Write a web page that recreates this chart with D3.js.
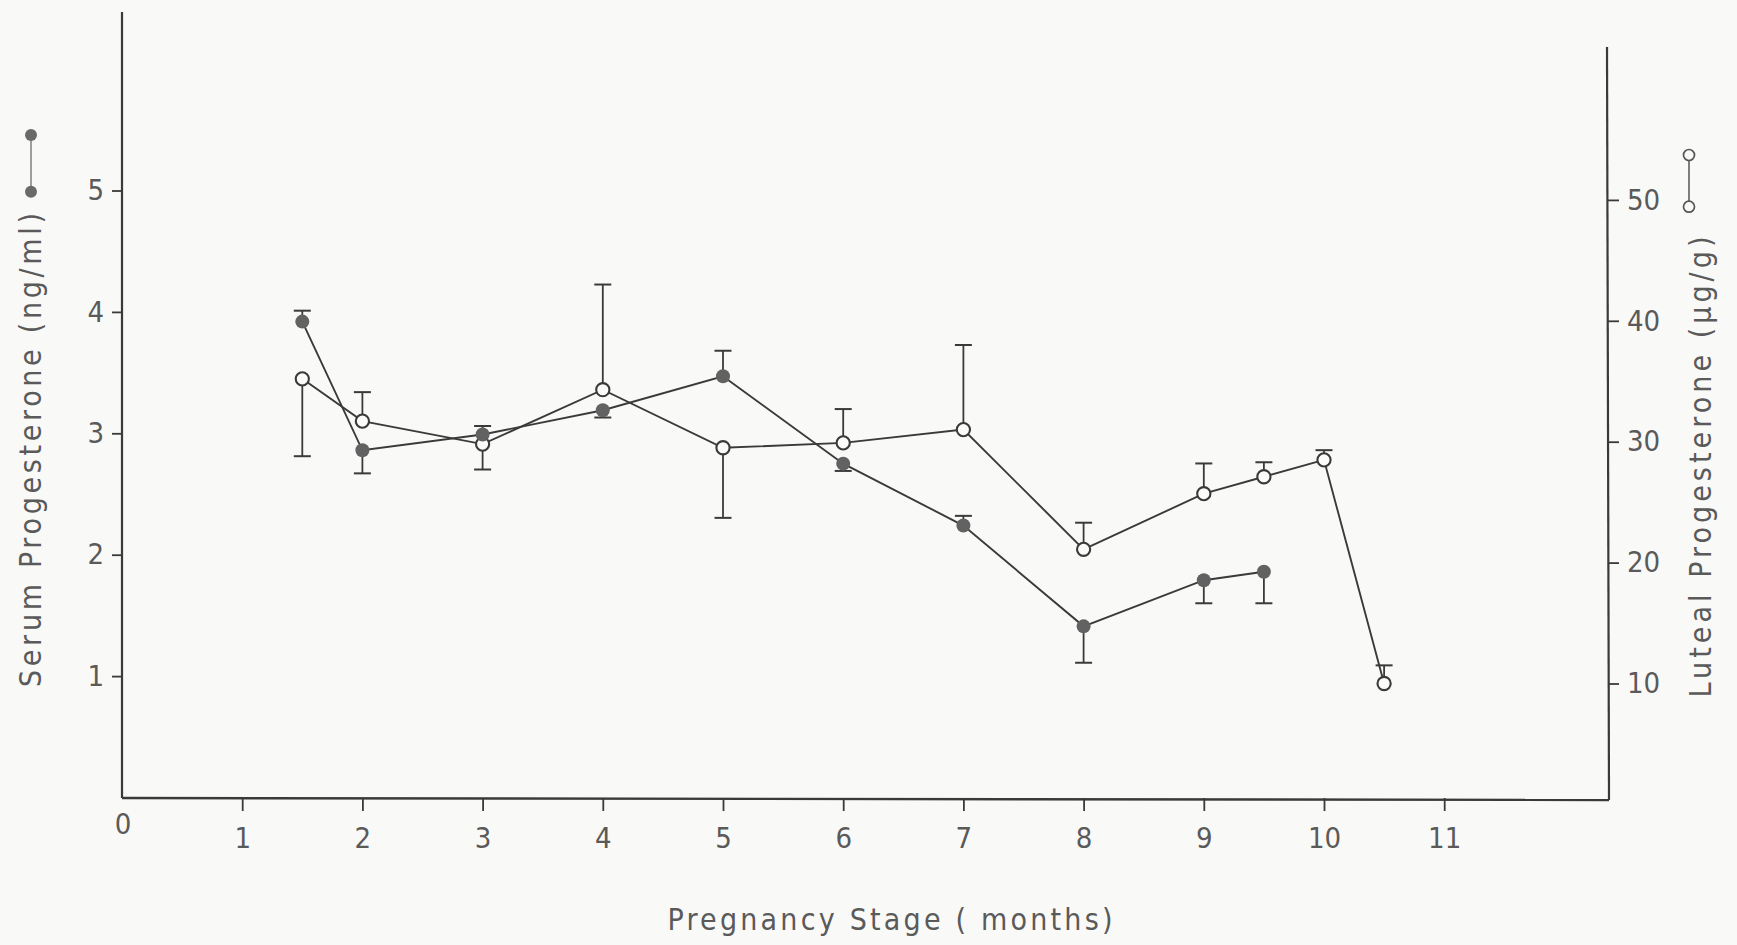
<!DOCTYPE html>
<html>
<head>
<meta charset="utf-8">
<script src="https://cdn.jsdelivr.net/npm/d3@7"></script>
<style>
  body { margin: 0; background: #f9f9f7; }
  svg { display: block; }
  text { font-family: "DejaVu Sans Condensed", "DejaVu Sans", sans-serif; fill: #5a5a5a; }
</style>
</head>
<body>
<svg id="svg"></svg>
<script>
// serum progesterone (ng/ml), filled dots; err = end of the one-sided SE bar
const serumMonths = [1.5, 2, 3, 4, 5, 6, 7, 8, 9, 9.5];
const serum       = [3.92, 2.86, 2.99, 3.19, 3.47, 2.75, 2.24, 1.41, 1.79, 1.86];
const serumErr    = [4.01, 2.67, 3.06, 3.13, 3.68, 2.69, 2.32, 1.11, 1.60, 1.60];

// luteal progesterone (ug/g), open dots
const lutealMonths = [1.5, 2, 3, 4, 5, 6, 7, 8, 9, 9.5, 10, 10.5];
const luteal       = [35.2, 31.7, 29.8, 34.3, 29.5, 29.9, 31.0, 21.1, 25.7, 27.1, 28.5, 10.0];
const lutealErr    = [28.8, 34.1, 27.7, 43.0, 23.7, 32.7, 38.0, 23.3, 28.2, 28.3, 29.3, 11.5];

const xTicks = [1, 2, 3, 4, 5, 6, 7, 8, 9, 10, 11];
const serumTicks = [1, 2, 3, 4, 5];
const lutealTicks = [10, 20, 30, 40, 50];

let layout = {"width": 1737, "height": 945};

let svg = d3.select("#svg")
  .attr("width", layout.width)
  .attr("height", layout.height);

let xScale = d3.scaleLinear().domain([0, 11]).range([122, 1444.2]);
let yLeft = d3.scaleLinear().domain([0, 5]).range([797.5, 190.5]);
let yRight = d3.scaleLinear().domain([0, 50]).range([804.4, 199.9]);

const ink = "#3a3a3a";
const x0 = xScale(0), yBase = 798, xRightAxis = 1609;

// axis lines
svg.append("line").attr("x1", x0).attr("y1", 12).attr("x2", x0).attr("y2", yBase)
  .attr("stroke", ink).attr("stroke-width", 2.2);
svg.append("line").attr("x1", x0).attr("y1", yBase).attr("x2", xRightAxis).attr("y2", yBase + 2)
  .attr("stroke", ink).attr("stroke-width", 2.4);
svg.append("line").attr("x1", xRightAxis - 2).attr("y1", 47).attr("x2", xRightAxis).attr("y2", yBase + 2)
  .attr("stroke", ink).attr("stroke-width", 2.2);

function styleAxis(g) {
  g.select(".domain").remove();
  g.selectAll(".tick line").attr("stroke", ink).attr("stroke-width", 1.8);
  g.selectAll(".tick text").attr("fill", "#5a5a5a")
    .style("font-family", "'DejaVu Sans Condensed', 'DejaVu Sans', sans-serif")
    .style("font-size", "29px");
}

svg.append("g")
  .attr("transform", `translate(${x0},0)`)
  .call(d3.axisLeft(yLeft).tickValues(serumTicks).tickFormat(d3.format("d")).tickSize(10).tickPadding(8))
  .call(styleAxis);

svg.append("g")
  .attr("transform", `translate(0,${yBase})`)
  .call(d3.axisBottom(xScale).tickValues(xTicks).tickFormat(d3.format("d")).tickSize(13).tickPadding(16))
  .call(styleAxis);

svg.append("text")
  .attr("x", x0 + 1).attr("y", 834)
  .attr("text-anchor", "middle")
  .style("font-size", "29px")
  .text("0");

svg.append("g")
  .attr("transform", `translate(${xRightAxis - 1},0)`)
  .call(d3.axisRight(yRight).tickValues(lutealTicks).tickFormat(d3.format("d")).tickSize(11).tickPadding(8))
  .call(styleAxis);

// series
let lineSerum = d3.line().x(d => xScale(d[0])).y(d => yLeft(d[1]));
let lineLuteal = d3.line().x(d => xScale(d[0])).y(d => yRight(d[1]));

const serumData = serumMonths.map((m, i) => [m, serum[i], serumErr[i]]);
const lutealData = lutealMonths.map((m, i) => [m, luteal[i], lutealErr[i]]);

svg.append("path").datum(lutealData)
  .attr("fill", "none").attr("stroke", ink).attr("stroke-width", 1.9)
  .attr("d", lineLuteal);
svg.append("path").datum(serumData)
  .attr("fill", "none").attr("stroke", ink).attr("stroke-width", 1.9)
  .attr("d", lineSerum);

function errorBars(data, y, cls) {
  let g = svg.append("g").attr("class", cls);
  g.selectAll("line.stem").data(data).join("line")
    .attr("class", "stem")
    .attr("x1", d => xScale(d[0])).attr("x2", d => xScale(d[0]))
    .attr("y1", d => y(d[1])).attr("y2", d => y(d[2]))
    .attr("stroke", ink).attr("stroke-width", 1.8);
  g.selectAll("line.cap").data(data).join("line")
    .attr("class", "cap")
    .attr("x1", d => xScale(d[0]) - 8.5).attr("x2", d => xScale(d[0]) + 8.5)
    .attr("y1", d => y(d[2])).attr("y2", d => y(d[2]))
    .attr("stroke", ink).attr("stroke-width", 2);
}
errorBars(lutealData, yRight, "errLuteal");
errorBars(serumData, yLeft, "errSerum");

svg.append("g").selectAll("circle").data(lutealData).join("circle")
  .attr("cx", d => xScale(d[0])).attr("cy", d => yRight(d[1])).attr("r", 6.6)
  .attr("fill", "#fbfbfa").attr("stroke", ink).attr("stroke-width", 2.1);
svg.append("g").selectAll("circle").data(serumData).join("circle")
  .attr("cx", d => xScale(d[0])).attr("cy", d => yLeft(d[1])).attr("r", 7)
  .attr("fill", "#626262");

// axis titles
svg.append("text")
  .attr("transform", "translate(41,450) rotate(-90)")
  .attr("text-anchor", "middle")
  .attr("textLength", 474).attr("lengthAdjust", "spacing")
  .style("font-size", "30px")
  .text("Serum Progesterone (ng/ml)");

svg.append("text")
  .attr("transform", "translate(1711,467) rotate(-90)")
  .attr("text-anchor", "middle")
  .attr("textLength", 461).attr("lengthAdjust", "spacing")
  .style("font-size", "30px")
  .text("Luteal Progesterone (µg/g)");

svg.append("text")
  .attr("x", 890).attr("y", 930)
  .attr("text-anchor", "middle")
  .attr("textLength", 445).attr("lengthAdjust", "spacing")
  .style("font-size", "30px")
  .text("Pregnancy Stage ( months)");

// legend keys beside the axis titles
svg.append("line").attr("x1", 31).attr("x2", 31).attr("y1", 135).attr("y2", 191.7)
  .attr("stroke", "#777").attr("stroke-width", 1.4);
svg.append("g").selectAll("circle").data([135, 191.7]).join("circle")
  .attr("cx", 31).attr("cy", d => d).attr("r", 6).attr("fill", "#6a6a6a");

svg.append("line").attr("x1", 1689).attr("x2", 1689).attr("y1", 155).attr("y2", 206.7)
  .attr("stroke", "#555").attr("stroke-width", 1.5);
svg.append("g").selectAll("circle").data([155, 206.7]).join("circle")
  .attr("cx", 1689).attr("cy", d => d).attr("r", 5.5)
  .attr("fill", "#f9f9f7").attr("stroke", "#555").attr("stroke-width", 1.7);
</script>
</body>
</html>
